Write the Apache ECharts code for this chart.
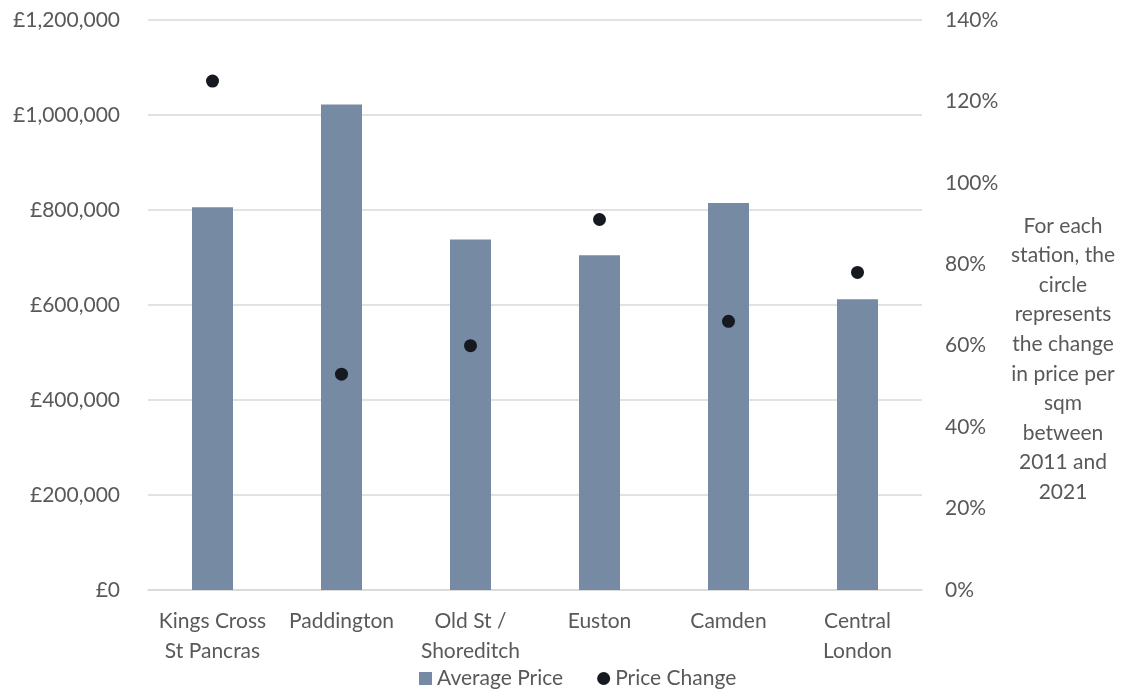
<!DOCTYPE html>
<html>
<head>
<meta charset="utf-8">
<script src="https://cdn.jsdelivr.net/npm/echarts@6/dist/echarts.min.js"></script>
<style>
  html, body { margin: 0; padding: 0; background: #fff; }
  #chart { width: 1128px; height: 693px; }
</style>
</head>
<body>
<div id="chart"></div>
<script>
// Stations compared
const stations = ['Kings Cross\nSt Pancras', 'Paddington', 'Old St /\nShoreditch', 'Euston', 'Camden', 'Central\nLondon'];
// Average property price (£)
const averagePrice = [806000, 1022000, 738000, 705000, 815000, 612000];
// Change in price per sqm 2011–2021 (%)
const priceChange = [125, 53, 60, 91, 66, 78];
// Side note beside the right axis
const noteLines = ['For each', 'station, the', 'circle', 'represents', 'the change', 'in price per', 'sqm', 'between', '2011 and', '2021'];

const FONT = 'Lato, "Open Sans", sans-serif';
const TEXT = '#595959';
const FS = 21;

const chart = echarts.init(document.getElementById('chart'));
chart.setOption({
  animation: false,
  textStyle: { fontFamily: FONT, color: TEXT },
  grid: { left: 148, right: 206, top: 20, bottom: 103, containLabel: false },
  legend: {
    bottom: -1,
    left: 414,
    itemWidth: 13,
    itemHeight: 13,
    itemGap: 34,
    textStyle: { fontFamily: FONT, fontSize: FS, color: TEXT },
    data: [
      { name: 'Average Price', icon: 'rect' },
      { name: 'Price Change', icon: 'circle' }
    ]
  },
  xAxis: {
    type: 'category',
    data: stations,
    axisLine: { lineStyle: { color: '#D9D9D9', width: 1.5 } },
    axisTick: { show: false },
    axisLabel: { fontFamily: FONT, fontSize: FS, color: TEXT, lineHeight: 30, margin: 16, interval: 0 }
  },
  yAxis: [
    {
      type: 'value',
      min: 0, max: 1200000, interval: 200000,
      axisLine: { show: false },
      axisTick: { show: false },
      splitLine: { lineStyle: { color: '#D9D9D9', width: 1.5 } },
      axisLabel: {
        fontFamily: FONT, fontSize: FS, color: TEXT, margin: 28,
        formatter: v => '£' + v.toLocaleString('en-GB')
      }
    },
    {
      type: 'value',
      min: 0, max: 140, interval: 20,
      position: 'right',
      axisLine: { show: false },
      axisTick: { show: false },
      splitLine: { show: false },
      axisLabel: { fontFamily: FONT, fontSize: FS, color: TEXT, margin: 23, formatter: v => v + '%' }
    }
  ],
  series: [
    {
      name: 'Average Price',
      type: 'bar',
      data: averagePrice,
      barWidth: 41,
      itemStyle: { color: '#768BA3' }
    },
    {
      name: 'Price Change',
      type: 'scatter',
      yAxisIndex: 1,
      data: priceChange,
      symbol: 'circle',
      symbolSize: 13,
      itemStyle: { color: '#16191F', opacity: 1 }
    }
  ],
  graphic: [
    {
      type: 'text',
      x: 1063,
      y: 211,
      style: {
        text: noteLines.join('\n'),
        align: 'center',
        verticalAlign: 'top',
        fill: TEXT,
        font: FS + 'px ' + FONT,
        lineHeight: 29.6
      }
    }
  ]
});
</script>
</body>
</html>
